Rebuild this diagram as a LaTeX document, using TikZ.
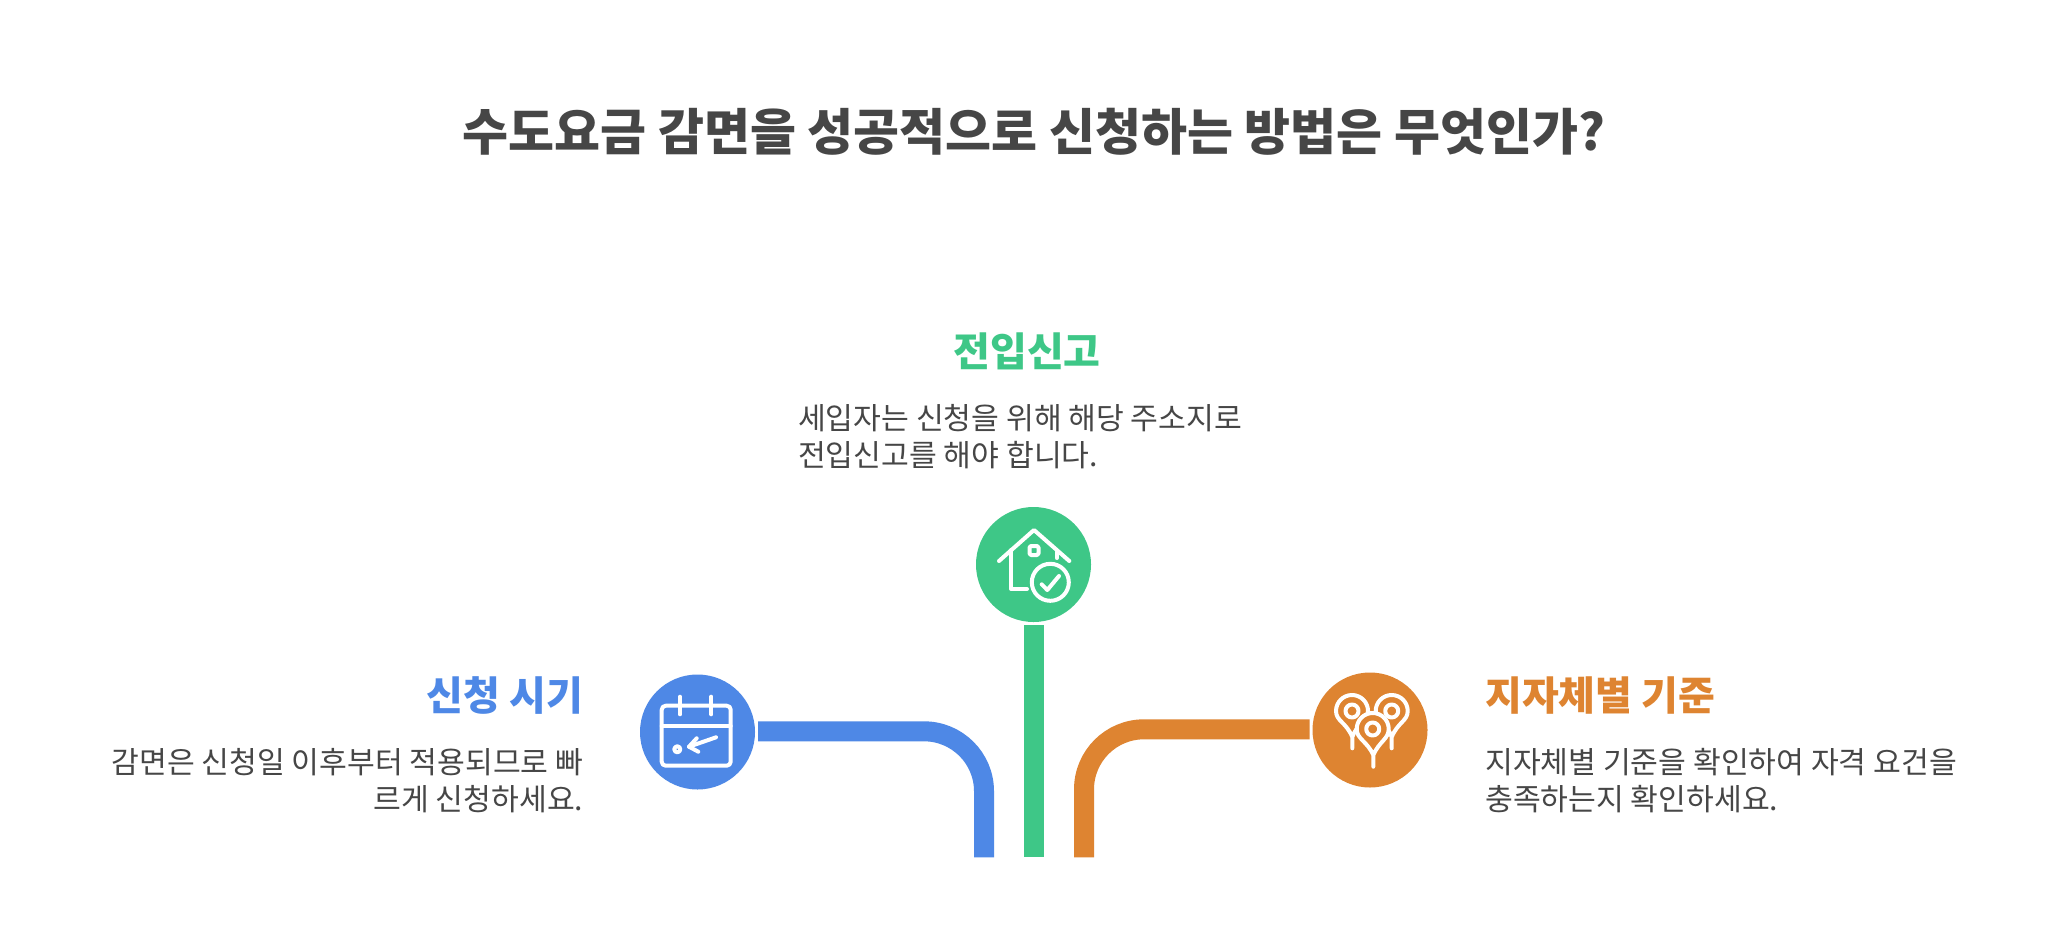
\documentclass[tikz,border=0pt]{standalone}
\usepackage{fontspec}
\setmainfont{Noto Sans CJK KR}
\definecolor{cgreen}{HTML}{3EC787}
\definecolor{cblue}{HTML}{4E88E6}
\definecolor{corange}{HTML}{DE8431}
\definecolor{ctext}{HTML}{464646}
\newcommand{\fsz}[2]{\fontsize{#1}{#2}\selectfont}
\tikzset{
 x=1pt,y=-1pt,
 titletext/.style={inner sep=0,text=ctext,font=\fsz{50}{60}\bfseries},
 headtext/.style={inner sep=0,font=\fsz{40}{48}\bfseries},
 bodytext/.style={inner sep=0,text=ctext,font=\fsz{30.2}{37}},
 disc/.style={circle,minimum size=115,inner sep=0},
 bar/.style={line width=20,rounded corners=60},
 ico/.style={draw=white,line width=4,line cap=round,line join=round},
 pin/.style={ico,fill=corange},
}
\begin{document}
\begin{tikzpicture}
\useasboundingbox (0,0) rectangle (2068,950);
\fill[white] (0,0) rectangle (2068,950);
\node[titletext] (title) at (1034,132) {수도요금 감면을 성공적으로 신청하는 방법은 무엇인가?};

\node[headtext,text=cgreen] (h2) at (1027,351.5) {전입신고};
\node[bodytext,anchor=west,align=left] (b2) at (798,437) {세입자는 신청을 위해 해당 주소지로\\전입신고를 해야 합니다.};
\node[headtext,text=cblue,anchor=east] (h1) at (583.5,696) {신청 시기};
\node[bodytext,anchor=east,align=right] (b1) at (583.5,781) {감면은 신청일 이후부터 적용되므로 빠\\르게 신청하세요.};
\node[headtext,text=corange,anchor=west] (h3) at (1485,696) {지자체별 기준};
\node[bodytext,anchor=west,align=left] (b3) at (1485,781) {지자체별 기준을 확인하여 자격 요건을\\충족하는지 확인하세요.};

\node[disc,fill=cgreen] (c2) at (1033.5,564.5) {};
\node[disc,fill=cblue] (c1) at (697.5,732) {};
\node[disc,fill=corange] (c3) at (1370,730) {};

\coordinate (s1) at (758,731.3);
\coordinate (k1) at (984,731.3);
\coordinate (e1) at (984,857.3);
\coordinate (s2) at (1034,625);
\coordinate (e2) at (1034,857.3);
\coordinate (s3) at (1309.5,729.3);
\coordinate (k3) at (1084,729.3);
\coordinate (e3) at (1084,857.3);
\draw[bar,draw=cblue] (s1) -- (k1) -- (e1);
\draw[bar,draw=cgreen] (s2) -- (e2);
\draw[bar,draw=corange] (s3) -- (k3) -- (e3);

% house icon
\draw[ico] (999,561) -- (1034,530) -- (1069.3,561);
\draw[ico] (1011,550) -- (1011,589) -- (1027,589);
\draw[ico,rounded corners=1.5] (1029.5,546) rectangle (1038.5,555);
\draw[ico] (1056.7,552) -- (1056.7,558);
\draw[ico] (1050.3,582.3) circle (18.5);
\draw[ico] (1041.7,584.3) -- (1047.3,590) -- (1059,576);

% calendar icon
\draw[ico,rounded corners=4] (661.7,705.7) rectangle (730.7,765.7);
\draw[ico] (661.7,726) -- (730.7,726);
\draw[ico] (680,696.7) -- (680,714.3);
\draw[ico] (711.3,696.7) -- (711.3,714.3);
\draw[ico] (716,737.3) -- (689,746.7);
\draw[ico] (696.7,738.3) -- (689,746.7) -- (698.3,751.7);
\draw[ico] (677.3,749.3) circle (3);

% pins icon
\draw[pin] (1352.3,748.3) -- (1352.3,737) .. controls (1346,722) and (1336,721) .. (1336,711) arc[start angle=180,end angle=360,radius=16] .. controls (1368,721) and (1358,722) .. (1352.3,737);
\draw[ico] (1352,711) circle (6.5);
\draw[pin] (1391.7,748.3) -- (1391.7,737) .. controls (1386,722) and (1375.7,721) .. (1375.7,711) arc[start angle=180,end angle=360,radius=16] .. controls (1407.7,721) and (1398,722) .. (1391.7,737);
\draw[ico] (1391.7,711) circle (6.5);
\draw[pin] (1373.3,766.7) -- (1373.3,755) .. controls (1367,741) and (1356.7,739) .. (1356.7,729) arc[start angle=180,end angle=360,radius=16] .. controls (1388.7,739) and (1379.5,741) .. (1373.3,755);
\draw[ico] (1372.7,729) circle (6.5);
\end{tikzpicture}
\end{document}
